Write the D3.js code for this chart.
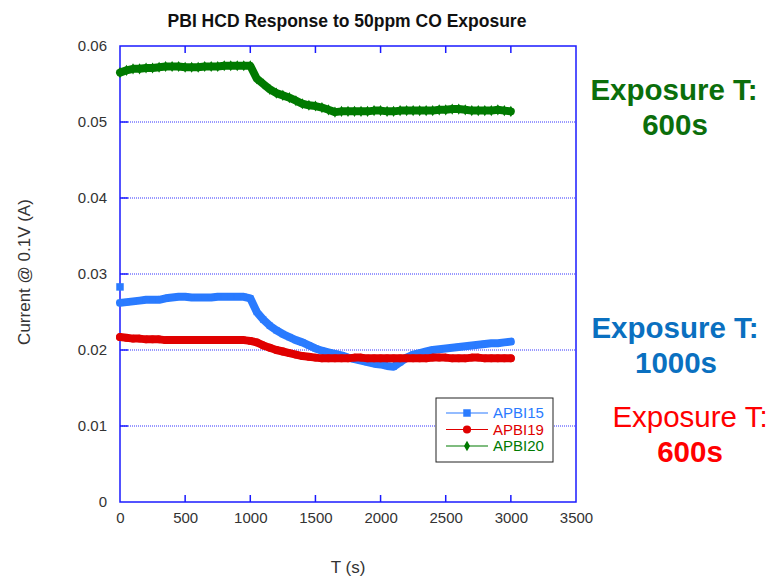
<!DOCTYPE html>
<html>
<head>
<meta charset="utf-8">
<script src="https://cdn.jsdelivr.net/npm/d3@7"></script>
<style>
  body { margin: 0; background: #fff; }
  svg { display: block; font-family: "Liberation Sans", Arial, sans-serif; }
</style>
</head>
<body>
<svg id="chart" width="771" height="578"></svg>
<script>
// Sampling times (s)
const time = [0,50,100,150,200,250,300,350,400,450,500,550,600,650,700,750,800,850,900,950,
  1000,1050,1100,1150,1200,1250,1300,1350,1400,1450,1500,1550,1600,1650,1700,1750,1800,1850,1900,1950,
  2000,2050,2100,2150,2200,2250,2300,2350,2400,2450,2500,2550,2600,2650,2700,2750,2800,2850,2900,2950,3000];

// First APBI15 reading, recorded before the sample settled
const apbi15Start = { t: 0, v: 0.0283 };

const apbi15 = [0.0262,0.0263,0.0264,0.0265,0.0266,0.0266,0.0266,0.0268,0.0269,0.0270,0.0270,0.0269,0.0269,0.0269,0.0269,0.0270,0.0270,0.0270,0.0270,0.0270,
  0.0268,0.0250,0.0240,0.0232,0.0226,0.0221,0.0217,0.0213,0.0210,0.0206,0.0202,0.0199,0.0197,0.0195,0.0193,0.0190,0.0188,0.0186,0.0184,0.0182,
  0.0181,0.0179,0.0178,0.0184,0.0190,0.0194,0.0196,0.0198,0.0200,0.0201,0.0202,0.0203,0.0204,0.0205,0.0206,0.0207,0.0208,0.0209,0.0209,0.0210,0.0211];

const apbi19 = [0.0217,0.0216,0.0215,0.0215,0.0214,0.0214,0.0214,0.0213,0.0213,0.0213,0.0213,0.0213,0.0213,0.0213,0.0213,0.0213,0.0213,0.0213,0.0213,0.0213,
  0.0212,0.0210,0.0206,0.0203,0.0200,0.0198,0.0196,0.0194,0.0192,0.0191,0.0190,0.0189,0.0189,0.0189,0.0189,0.0189,0.0190,0.0190,0.0189,0.0189,
  0.0189,0.0189,0.0189,0.0189,0.0189,0.0189,0.0189,0.0189,0.0190,0.0190,0.0190,0.0189,0.0189,0.0189,0.0190,0.0190,0.0189,0.0189,0.0189,0.0189,0.0189];

const apbi20 = [0.0565,0.0568,0.0570,0.0570,0.0571,0.0571,0.0572,0.0573,0.0573,0.0573,0.0572,0.0572,0.0572,0.0573,0.0573,0.0573,0.0574,0.0574,0.0574,0.0574,
  0.0574,0.0557,0.0550,0.0543,0.0538,0.0535,0.0532,0.0528,0.0524,0.0522,0.0521,0.0519,0.0516,0.0513,0.0514,0.0514,0.0514,0.0514,0.0514,0.0515,
  0.0515,0.0514,0.0514,0.0515,0.0515,0.0515,0.0515,0.0515,0.0515,0.0516,0.0516,0.0517,0.0517,0.0516,0.0515,0.0515,0.0515,0.0515,0.0516,0.0515,0.0514];

const xTicks = [0,500,1000,1500,2000,2500,3000,3500];
const yTicks = [0,0.01,0.02,0.03,0.04,0.05,0.06];

const seriesNames = ["APBI15","APBI19","APBI20"];
const seriesColors = ["#2a7bff","#e00000","#007a00"];
const seriesShapes = [d3.symbolSquare, d3.symbolCircle, d3.symbolDiamond];

const svg = d3.select("#chart");
const plotL = 120, plotR = 576, plotT = 46, plotB = 502;

const x = d3.scaleLinear().domain([0,3500]).range([plotL,plotR]);
const y = d3.scaleLinear().domain([0,0.06]).range([plotB,plotT]);
const frame = "#1a1aff";

// Title
svg.append("text").attr("x",347).attr("y",27).attr("text-anchor","middle")
  .attr("font-size",17.5).attr("font-weight","bold").attr("fill","#111")
  .text("PBI HCD Response to 50ppm CO Exposure");

// Dotted gridlines
svg.append("g").selectAll("line").data(yTicks.filter(v => v > 0 && v < 0.06)).join("line")
  .attr("x1",plotL).attr("x2",plotR).attr("y1",d=>y(d)).attr("y2",d=>y(d))
  .attr("stroke","#3333ff").attr("stroke-width",1).attr("stroke-dasharray","1,1");

// Axes (labels only; frame and ticks drawn separately)
const yAxis = svg.append("g").attr("transform",`translate(${plotL},0)`)
  .call(d3.axisLeft(y).tickValues(yTicks).tickSize(0).tickPadding(13).tickFormat(d => d === 0 ? "0" : d3.format(".2f")(d)));
const xAxis = svg.append("g").attr("transform",`translate(0,${plotB})`)
  .call(d3.axisBottom(x).tickValues(xTicks).tickSize(0).tickPadding(10).tickFormat(d3.format("d")));
[yAxis,xAxis].forEach(a => {
  a.select(".domain").remove();
  a.selectAll("text").attr("font-size",15).attr("fill","#333").attr("font-family","Liberation Sans, Arial, sans-serif");
});

// Inward tick marks on the frame edges
const tickG = svg.append("g").attr("stroke",frame).attr("stroke-width",1.5);
xTicks.filter(t => t > 0 && t < 3500).forEach(t => {
  tickG.append("line").attr("x1",x(t)).attr("x2",x(t)).attr("y1",plotB).attr("y2",plotB-7);
  tickG.append("line").attr("x1",x(t)).attr("x2",x(t)).attr("y1",plotT).attr("y2",plotT+7);
});
yTicks.filter(v => v > 0 && v < 0.06).forEach(v => {
  tickG.append("line").attr("x1",plotL).attr("x2",plotL+8).attr("y1",y(v)).attr("y2",y(v));
});

// Plot frame
svg.append("rect").attr("x",plotL).attr("y",plotT).attr("width",plotR-plotL).attr("height",plotB-plotT)
  .attr("fill","none").attr("stroke",frame).attr("stroke-width",1.5);

// Axis titles
svg.append("text").attr("x",348).attr("y",573).attr("text-anchor","middle")
  .attr("font-size",17).attr("fill","#333").text("T (s)");
svg.append("text").attr("transform","translate(30,272) rotate(-90)").attr("text-anchor","middle")
  .attr("font-size",17).attr("fill","#333").text("Current @ 0.1V (A)");

// Series: thick band plus a marker at every reading
const allSeries = [apbi15, apbi19, apbi20];
const line = d3.line().x(d => x(d.t)).y(d => y(d.v));
const plot = svg.append("g");
allSeries.forEach((vals,i) => {
  const pts = time.map((t,k) => ({t, v: vals[k]}));
  plot.append("path").datum(pts).attr("d",line).attr("fill","none")
    .attr("stroke",seriesColors[i]).attr("stroke-width",8).attr("stroke-linejoin","round").attr("stroke-linecap","round");
  plot.append("g").selectAll("path").data(pts).join("path")
    .attr("transform",d => `translate(${x(d.t)},${y(d.v)})`)
    .attr("d",d3.symbol().type(seriesShapes[i]).size([40,48,36][i]))
    .attr("fill",seriesColors[i]);
});
plot.append("path")
  .attr("transform",`translate(${x(apbi15Start.t)},${y(apbi15Start.v)})`)
  .attr("d",d3.symbol().type(d3.symbolSquare).size(56))
  .attr("fill",seriesColors[0]);

// Legend
const lg = svg.append("g").attr("transform","translate(436,398)");
lg.append("rect").attr("width",117).attr("height",64).attr("fill","#fff").attr("stroke","#222").attr("stroke-width",1);
seriesNames.forEach((name,i) => {
  const yy = 15 + i*16.5;
  lg.append("line").attr("x1",10).attr("x2",52).attr("y1",yy).attr("y2",yy)
    .attr("stroke",seriesColors[i]).attr("stroke-width",1.2);
  lg.append("path").attr("transform",`translate(31,${yy})`)
    .attr("d",d3.symbol().type(seriesShapes[i]).size([56,52,32][i])).attr("fill",seriesColors[i]);
  lg.append("text").attr("x",57).attr("y",yy+5).attr("font-size",15).attr("fill",seriesColors[i]).text(name);
});

// Exposure annotations
const notes = [
  {text:"Exposure T:", x:674, y:100, color:"#0b6e0b", weight:"bold"},
  {text:"600s", x:675, y:135, color:"#0b6e0b", weight:"bold"},
  {text:"Exposure T:", x:675, y:338, color:"#0a70c0", weight:"bold"},
  {text:"1000s", x:676, y:373, color:"#0a70c0", weight:"bold"},
  {text:"Exposure T:", x:690, y:427, color:"#ff0000", weight:"normal"},
  {text:"600s", x:690, y:462, color:"#ff0000", weight:"bold"}
];
svg.append("g").selectAll("text").data(notes).join("text")
  .attr("x",d=>d.x).attr("y",d=>d.y).attr("text-anchor","middle")
  .attr("font-size",29.5).attr("font-weight",d=>d.weight).attr("fill",d=>d.color)
  .text(d=>d.text);
</script>
</body>
</html>
